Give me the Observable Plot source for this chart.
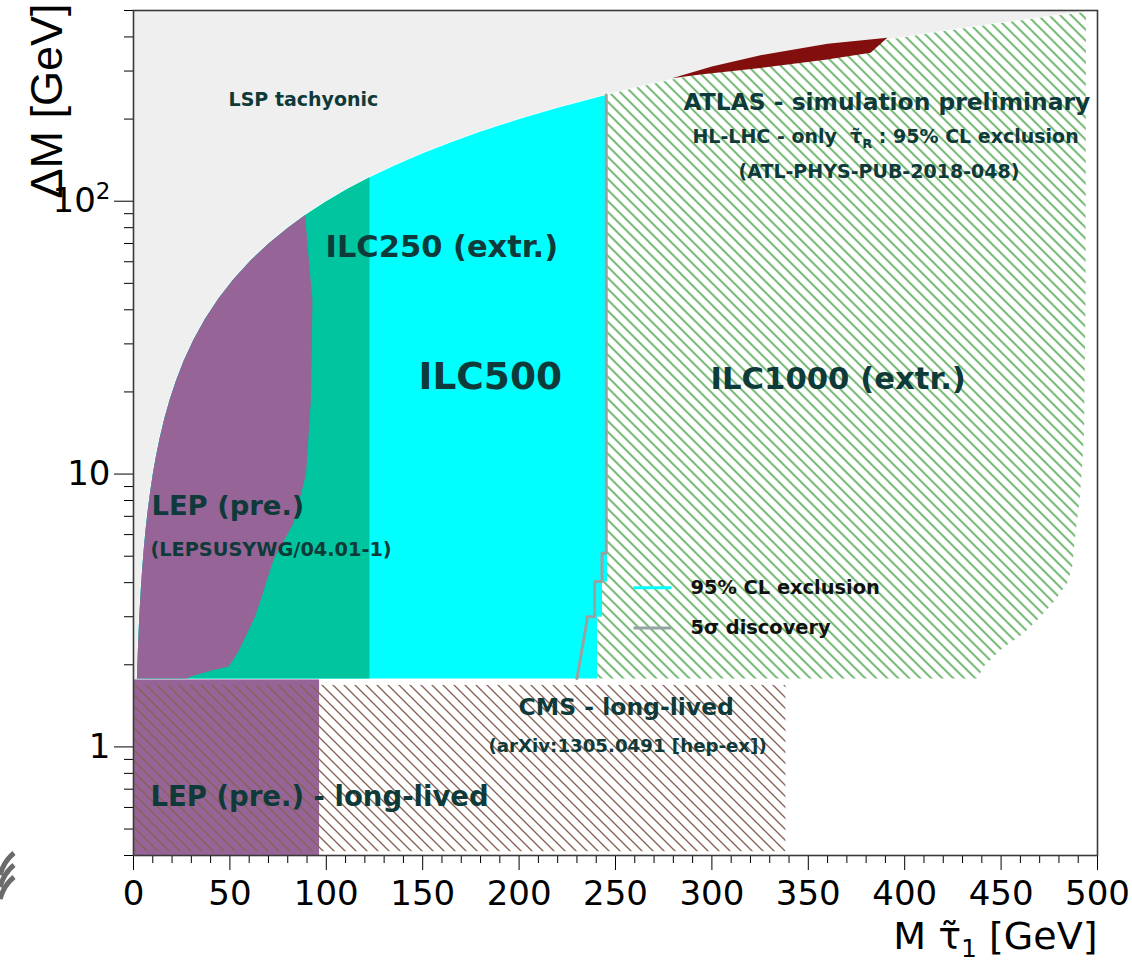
<!DOCTYPE html>
<html><head><meta charset="utf-8">
<script src="https://cdn.jsdelivr.net/npm/d3@7"></script>
<script src="https://cdn.jsdelivr.net/npm/@observablehq/plot@0.6"></script>
<style>
html,body{margin:0;padding:0;background:#fff;}
#chart{position:relative;width:1132px;height:961px;overflow:hidden;}
#logo{position:absolute;left:0;top:845px;}
</style></head><body><div id="chart"></div>
<script>
// ---------- data (M = stau mass [GeV], dM = mass difference [GeV]) ----------
// kinematic boundary dM = M (above it the LSP would be tachyonic)
const kinBoundary = [[0.4,0.4],[0.5,0.5],[0.6,0.6],[0.7,0.7],[0.8,0.8],[0.9,0.9],[1,1],[1.15,1.15],[1.3,1.3],[1.5,1.5],[1.78,1.78],[2,2],[2.3,2.3],[2.7,2.7],[3.2,3.2],[3.8,3.8],[4.5,4.5],[5.3,5.3],[6.2,6.2],[7.3,7.3],[8.6,8.6],[10,10],[11.5,11.5],[13.5,13.5],[16,16],[19,19],[22,22],[26,26],[31,31],[37,37],[44,44],[52,52],[61,61],[70,70],[80,80],[89,89],[100,100],[111,111],[122.4,122.4],[135,135],[150,150],[165,165],[180,180],[200,200],[220,220],[240.5,240.5],[245.6,245.6],[262,262],[279,279],[300,300],[325,325],[350,350],[375,375],[391,391],[420,420],[450,450],[475,475],[494,494],[500,500]];
// LEP (pre.) limit, read from top to bottom
const lepLimit = [[89,89],[91,60],[92.8,43.5],[92.5,30],[92,18.7],[89.5,10],[83,6.6],[72.6,4.85],[66,3.46],[63,3.0],[59,2.61],[54,2.21],[49.4,1.97],[40,1.9],[29.6,1.81],[28,1.78]];
const ilcFloor = 1.78;           // m_tau
const ilc250Edge = 122.4;        // ILC250 (extr.) reach
// ILC500 right edge (95% CL), top to bottom
const ilc500Edge = [[245.6,245.6],[245.6,4.04],[243,4.04],[243,3.0],[240.5,3.0],[240.5,1.78]];
// ILC1000 (extr.) right edge, top to bottom
const ilc1000Edge = [[494,494],[493.8,43.5],[493,14.2],[492,10.6],[490.7,8.05],[488.6,6.1],[486.9,4.58],[484.3,3.99],[478.2,3.46],[470.4,3.0],[461.7,2.61],[449.7,2.27],[441,1.97],[437.6,1.78]];
// 5 sigma discovery line (ILC500)
const discovery5s = [[245.2,245],[245.2,5.13],[243,5.13],[243,4.04],[239.2,4.04],[239.2,3.0],[235.2,3.0],[235.2,2.9],[230,1.78]];
// ATLAS HL-LHC 95% CL exclusion (tau_R only)
const hllhc = [[279.3,282],[300,312],[325.2,343],[360,378],[391,397],[382.3,350],[359.8,331],[325.2,308],[294,291.5]];
// long-lived regions
const lepLongLived = [{M1:0, M2:96.5, dM1:0.4, dM2:1.76}];
const cmsLongLived = [{M1:0, M2:338.4, dM1:0.413, dM2:1.68}];
// axis ticks
const xMajor = [0,50,100,150,200,250,300,350,400,450,500];
const xMinor = [10,20,30,40,60,70,80,90,110,120,130,140,160,170,180,190,210,220,230,240,260,270,280,290,310,320,330,340,360,370,380,390,410,420,430,440,460,470,480,490];
const yMajor = [1,10,100];
const yMinor = [0.4,0.5,0.6,0.7,0.8,0.9,2,3,4,5,6,7,8,9,20,30,40,50,60,70,80,90,200,300,400,500];
// annotations
const annotations = [
  {text:"LSP tachyonic", M:49.3, dM:236},
  {text:"ILC250 (extr.)", M:99.6, dM:67.7},
  {text:"ILC500", M:147.8, dM:22.6},
  {text:"ILC1000 (extr.)", M:299.3, dM:22.2},
  {text:"ATLAS - simulation preliminary", M:285.3, dM:230},
  {text:"HL-LHC - only  τ̃R : 95% CL exclusion", M:289.9, dM:172.7},
  {text:"(ATL-PHYS-PUB-2018-048)", M:313.8, dM:128.5},
  {text:"LEP (pre.)", M:9.3, dM:7.6},
  {text:"(LEPSUSYWG/04.01-1)", M:8.8, dM:5.28},
  {text:"CMS - long-lived", M:199.7, dM:1.40},
  {text:"(arXiv:1305.0491 [hep-ex])", M:184.1, dM:1.01},
  {text:"LEP (pre.) - long-lived", M:8.8, dM:0.656}
];
const legendEntries = [
  {label:"95% CL exclusion", M1:259.3, M2:279.0, dM:3.83},
  {label:"5σ discovery", M1:259.3, M2:279.0, dM:2.73}
];

// ---------- derived polygons ----------
const between = (lo, hi) => kinBoundary.filter(d => d[0] >= lo && d[0] <= hi);
const polyLEP = [...between(1.78, 89), ...lepLimit];
const poly250 = [...between(1.78, ilc250Edge), [ilc250Edge, ilcFloor]];
const poly500 = [...between(1.78, 245.6), ...ilc500Edge];
const poly1000 = [...between(240.5, 494), ...ilc1000Edge, [240.5, ilcFloor]];

const sizeOf = {
  "LSP tachyonic":19, "ILC250 (extr.)":30.5, "ILC500":37.5, "ILC1000 (extr.)":30.7,
  "ATLAS - simulation preliminary":23.4, "HL-LHC - only  τ̃R : 95% CL exclusion":19,
  "(ATL-PHYS-PUB-2018-048)":19, "LEP (pre.)":27.4, "(LEPSUSYWG/04.01-1)":19.3,
  "CMS - long-lived":23.5, "(arXiv:1305.0491 [hep-ex])":18.2, "LEP (pre.) - long-lived":27.5
};
const px = d => d[0], py = d => d[1];
const poly = (data, fill) => Plot.line(data, {x: px, y: py, fill, stroke: "none", curve: "linear-closed"});
const textColor = "#0f3a3a";

const svg = Plot.plot({
  width: 1132, height: 961,
  marginLeft: 133, marginRight: 35, marginTop: 10, marginBottom: 106,
  style: {fontFamily: "DejaVu Sans", background: "#fff", color: "#000", overflow: "visible"},
  x: {domain: [0, 500]},
  y: {type: "log", domain: [0.4, 500]},
  marks: [
    Plot.frame({fill: "#efefef", stroke: "none"}),
    Plot.areaY(kinBoundary, {x: px, y1: 0.4, y2: py, fill: "white"}),
    poly(poly1000, "url(#hatchGreen)"),
    poly(poly500, "#00ffff"),
    poly(poly250, "url(#dots250)"),
    poly(polyLEP, "#966496"),
    Plot.rect(lepLongLived, {x1:"M1", x2:"M2", y1:"dM1", y2:"dM2", fill:"#966496"}),
    Plot.rect(cmsLongLived, {x1:"M1", x2:"M2", y1:"dM1", y2:"dM2", fill:"url(#hatchBrown)"}),
    poly(hllhc, "#830e0e"),
    Plot.line(discovery5s, {x: px, y: py, stroke: "#97a3a3", strokeWidth: 3}),
    Plot.link(legendEntries, {x1:"M1", x2:"M2", y1:"dM", y2:"dM", strokeWidth: 3,
      stroke: d => d.label === "95% CL exclusion" ? "#00ffff" : "#97a3a3"}),
    Plot.text(legendEntries, {x: d => d.M2, y: "dM", text: "label", dx: 19, textAnchor: "start",
      fontSize: 19.4, fontWeight: "bold", fill: "#111"}),
    Plot.text(annotations, {x: "M", y: "dM", text: "text", textAnchor: "start",
      fontSize: d => sizeOf[d.text], fontWeight: "bold", fill: textColor}),
    Plot.axisX({ticks: xMinor, tickSize: 8, tickFormat: () => "", label: null}),
    Plot.axisX({ticks: xMajor, tickSize: 15, tickPadding: 10, fontSize: 34, label: null, tickFormat: d => String(d)}),
    Plot.axisY({ticks: yMinor, tickSize: 9, tickFormat: () => "", label: null}),
    Plot.axisY({ticks: yMajor, tickSize: 19, tickPadding: 4, fontSize: 34, label: null,
      tickFormat: d => d === 100 ? "10²" : String(d)}),
    Plot.frame({stroke: "#3a3a3a", strokeWidth: 1.6}),
    Plot.text(["M τ̃1 [GeV]"], {frameAnchor: "bottom-right", textAnchor: "end", lineAnchor: "bottom",
      dy: 93, fontSize: 38, fill: "#000"}),
    Plot.text(["ΔM [GeV]"], {frameAnchor: "top-left", textAnchor: "end", rotate: -90,
      dx: -103, dy: -7, fontSize: 45, fontFamily: "Liberation Sans", fill: "#000"})
  ]
});

// pattern definitions
const defs = d3.select(svg).insert("defs", ":first-child");
const hatch = (id, color) => {
  const p = defs.append("pattern").attr("id", id).attr("patternUnits", "userSpaceOnUse")
    .attr("width", 11).attr("height", 11);
  p.append("path").attr("d", "M0,0L11,11M-2,9L2,13M9,-2L13,2")
    .attr("stroke", color).attr("stroke-width", 1.35).attr("fill", "none");
};
hatch("hatchGreen", "#319631");
hatch("hatchBrown", "#876252");
const dp = defs.append("pattern").attr("id", "dots250").attr("patternUnits", "userSpaceOnUse")
  .attr("width", 2).attr("height", 2);
dp.append("rect").attr("width", 2).attr("height", 2).attr("fill", "#00ffff");
dp.append("rect").attr("width", 1).attr("height", 1).attr("fill", "#008a3c");
dp.append("rect").attr("x", 1).attr("y", 1).attr("width", 1).attr("height", 1).attr("fill", "#008a3c");

// sub- and superscripts
const script = (prefix, before, subText, after, size, shift) =>
  d3.select(svg).selectAll("text").filter(function () { return this.textContent.startsWith(prefix); })
    .each(function () {
      const t = d3.select(this);
      t.text(null);
      t.append("tspan").text(before);
      t.append("tspan").attr("font-size", size).attr("dy", shift).text(subText);
      if (after) t.append("tspan").attr("dy", -shift).text(after);
    });
script("HL-LHC", "HL-LHC - only  τ̃", "R", " : 95% CL exclusion", 13, 5);
script("M τ̃1", "M τ̃", "1", " [GeV]", 25, 8);
script("10²", "10", "2", "", 23, -13);

document.getElementById("chart").appendChild(svg);

// partial logo in the lower-left corner
const logo = d3.select("#chart").append("svg").attr("id", "logo").attr("width", 40).attr("height", 70);
[0, 12, 24].forEach(o => logo.append("path")
  .attr("d", `M${14},${8 + o} Q${4},${16 + o} ${0},${30 + o}`)
  .attr("stroke", "#6b6b6b").attr("stroke-width", 5).attr("fill", "none"));
</script>
</body></html>
